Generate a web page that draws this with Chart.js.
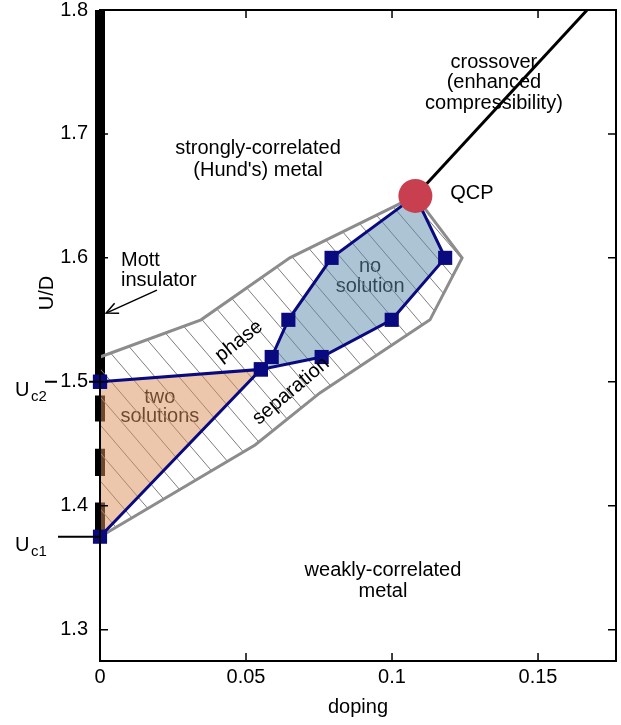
<!DOCTYPE html>
<html><head><meta charset="utf-8">
<script src="https://cdn.jsdelivr.net/npm/chart.js@4/dist/chart.umd.min.js"></script>
<style>html,body{margin:0;padding:0;background:#fff;}</style>
</head><body>
<canvas id="c" width="621" height="725"></canvas>
<script>
// ---------- data ----------
const xTicks = [0, 0.05, 0.1, 0.15];
const xTickLabels = ['0', '0.05', '0.1', '0.15'];
const yTicks = [1.3, 1.4, 1.5, 1.6, 1.7, 1.8];
const yTickLabels = ['1.3', '1.4', '1.5', '1.6', '1.7', '1.8'];
const xRange = [0, 0.1767];
const yRange = [1.2747, 1.8];

const Uc1 = 1.375;
const Uc2 = 1.5;

const mottBarU = [1.5, 1.8];                  // solid Mott insulator bar at doping 0
const mottDashStart = [1.468, 1.424, 1.380];  // dashed part below Uc2
const mottDashEnd   = [1.489, 1.446, 1.4025];

const twoSolDoping = [0, 0.0551, 0, 0];
const twoSolU      = [1.5, 1.51, 1.375, 1.5];

const noSolDoping = [0.108, 0.0793, 0.0645, 0.0588, 0.0551, 0.0759, 0.0999, 0.1182, 0.108];
const noSolU      = [1.65, 1.60, 1.55, 1.52, 1.51, 1.52, 1.55, 1.60, 1.65];

const phaseSepDoping = [0, 0.0346, 0.065, 0.1003, 0.108, 0.124, 0.113, 0.0753, 0.0531, 0, 0];
const phaseSepU      = [1.52, 1.55, 1.60, 1.641, 1.65, 1.60, 1.55, 1.491, 1.449, 1.375, 1.52];

const qcpDoping = [0.108];
const qcpU = [1.65];

const crossoverDoping = [0.108, 0.1668];
const crossoverU = [1.65, 1.8];

// ---------- helpers ----------
const FONT = "'Liberation Sans', Arial, Helvetica, sans-serif";
const NAVY = '#0a0a80';
const GRAY = '#8c8c8c';
const pts = (xs, ys) => xs.map((x, i) => ({x: x, y: ys[i]}));

function makeHatch(ctx) {
  const w = 24, h = 28;
  const t = document.createElement('canvas');
  t.width = w; t.height = h;
  const g = t.getContext('2d');
  g.strokeStyle = '#7d7d7d';
  g.lineWidth = 1;
  g.beginPath();
  for (const o of [-w, 0, w]) { g.moveTo(o, 0); g.lineTo(o + w, h); }
  g.stroke();
  return ctx.createPattern(t, 'repeat');
}

const canvas = document.getElementById('c');
const ctx0 = canvas.getContext('2d');
const hatch = makeHatch(ctx0);

const dashData = [];
mottDashStart.forEach((s, i) => {
  dashData.push({x: 0, y: s}, {x: 0, y: mottDashEnd[i]}, {x: 0, y: null});
});

const bothOnAxis = c => c.p0.parsed.x === 0 && c.p1.parsed.x === 0;

// ---------- annotation plugin ----------
function txt(ctx, s, x, y, align, size, color) {
  ctx.font = size + 'px ' + FONT;
  ctx.fillStyle = color || '#000';
  ctx.textAlign = align || 'center';
  ctx.textBaseline = 'middle';
  ctx.fillText(s, x, y);
}
function lines(ctx, arr, x, y, lh, align, color) {
  arr.forEach((s, i) => txt(ctx, s, x, y + i * lh, align, 20, color));
}

const annotations = {
  id: 'annotations',
  beforeDatasetsDraw(chart) {
    const {ctx, scales: {x, y}} = chart;
    ctx.save();
    lines(ctx, ['two', 'solutions'], x.getPixelForValue(0.0205), y.getPixelForValue(1.4877), 19.5, 'center', '#000');
    lines(ctx, ['no', 'solution'], x.getPixelForValue(0.0925), y.getPixelForValue(1.5934), 20, 'center', '#000');
    ctx.restore();
  },
  afterDatasetsDraw(chart) {
    const {ctx, scales: {x, y}} = chart;
    ctx.save();
    lines(ctx, ['strongly-correlated', "(Hund's) metal"], x.getPixelForValue(0.0541), y.getPixelForValue(1.6886), 22, 'center');
    lines(ctx, ['crossover', '(enhanced', 'compressibility)'], x.getPixelForValue(0.1349), y.getPixelForValue(1.758), 20.5, 'center');
    txt(ctx, 'QCP', x.getPixelForValue(0.1199), y.getPixelForValue(1.6523), 'left', 20);
    lines(ctx, ['Mott', 'insulator'], x.getPixelForValue(0.0072), y.getPixelForValue(1.5982), 20, 'left');
    lines(ctx, ['weakly-correlated', 'metal'], x.getPixelForValue(0.0969), y.getPixelForValue(1.348), 21, 'center');

    const rot = (s, dx, dy, deg) => {
      ctx.save();
      ctx.translate(x.getPixelForValue(dx), y.getPixelForValue(dy));
      ctx.rotate(deg * Math.PI / 180);
      txt(ctx, s, 0, 0, 'center', 20);
      ctx.restore();
    };
    rot('phase', 0.0476, 1.5328, -38);
    rot('separation', 0.0654, 1.4925, -40);

    const x1 = x.getPixelForValue(0.0195), y1 = y.getPixelForValue(1.574);
    const x2 = x.getPixelForValue(0.0021), y2 = y.getPixelForValue(1.5554);
    ctx.strokeStyle = '#000';
    ctx.lineWidth = 1.5;
    ctx.beginPath(); ctx.moveTo(x1, y1); ctx.lineTo(x2, y2); ctx.stroke();
    const ang = Math.atan2(y1 - y2, x1 - x2);
    const hl = 13, ha = 25 * Math.PI / 180;
    ctx.beginPath();
    ctx.moveTo(x2 + hl * Math.cos(ang + ha), y2 + hl * Math.sin(ang + ha));
    ctx.lineTo(x2, y2);
    ctx.lineTo(x2 + hl * Math.cos(ang - ha), y2 + hl * Math.sin(ang - ha));
    ctx.stroke();
    ctx.restore();
  },
  afterDraw(chart) {
    const {ctx, chartArea: a, scales: {x, y}} = chart;
    ctx.save();
    ctx.strokeStyle = '#000';
    ctx.lineWidth = 2;
    ctx.strokeRect(a.left, a.top, a.right - a.left, a.bottom - a.top);
    ctx.lineWidth = 1.5;
    ctx.beginPath();
    xTicks.forEach(v => {
      const p = x.getPixelForValue(v);
      ctx.moveTo(p, a.bottom); ctx.lineTo(p, a.bottom - 8);
      ctx.moveTo(p, a.top); ctx.lineTo(p, a.top + 8);
    });
    yTicks.forEach(v => {
      const p = y.getPixelForValue(v);
      ctx.moveTo(a.left, p); ctx.lineTo(a.left + 8, p);
      ctx.moveTo(a.right, p); ctx.lineTo(a.right - 8, p);
    });
    ctx.stroke();

    ctx.lineWidth = 2;
    const p2 = y.getPixelForValue(Uc2), p1 = y.getPixelForValue(Uc1);
    ctx.beginPath();
    ctx.moveTo(45, p2); ctx.lineTo(57, p2);
    ctx.moveTo(89, p2); ctx.lineTo(a.left, p2);
    ctx.moveTo(58, p1); ctx.lineTo(a.left, p1);
    ctx.stroke();
    const ulabel = (sub, py) => {
      ctx.fillStyle = '#000';
      ctx.textAlign = 'left';
      ctx.textBaseline = 'alphabetic';
      ctx.font = '20px ' + FONT;
      ctx.fillText('U', 15, py + 14);
      ctx.font = '15px ' + FONT;
      ctx.fillText(sub, 31, py + 19);
    };
    ulabel('c2', p2);
    ulabel('c1', p1);

    txt(ctx, 'doping', (a.left + a.right) / 2, 707, 'center', 20);
    ctx.save();
    ctx.translate(47, 293);
    ctx.rotate(-Math.PI / 2);
    txt(ctx, 'U/D', 0, 0, 'center', 20);
    ctx.restore();
    ctx.restore();
  }
};

// ---------- chart ----------
new Chart(canvas, {
  type: 'line',
  data: {
    datasets: [
      {
        data: pts([0, 0], mottBarU), borderColor: '#000', borderWidth: 10,
        borderCapStyle: 'butt', pointRadius: 0, fill: false, order: 90, clip: false
      },
      {
        data: dashData, borderColor: '#000', borderWidth: 10, borderCapStyle: 'butt',
        pointRadius: 0, fill: false, spanGaps: false, order: 80, clip: false
      },
      {
        data: pts(phaseSepDoping, phaseSepU), borderColor: GRAY, borderWidth: 3,
        borderJoinStyle: 'miter', backgroundColor: hatch, fill: 'shape', pointRadius: 0,
        segment: { borderColor: c => bothOnAxis(c) ? 'rgba(0,0,0,0)' : GRAY },
        order: 70, clip: false
      },
      {
        data: pts(twoSolDoping, twoSolU), borderColor: NAVY, borderWidth: 3,
        backgroundColor: 'rgba(218,143,88,0.5)', fill: 'shape',
        pointStyle: 'rect', pointRadius: 10, pointBorderWidth: 0, pointBackgroundColor: NAVY,
        segment: { borderColor: c => bothOnAxis(c) ? 'rgba(0,0,0,0)' : NAVY },
        order: 60, clip: false
      },
      {
        data: pts(noSolDoping, noSolU), borderColor: NAVY, borderWidth: 3,
        backgroundColor: 'rgba(90,138,170,0.5)', fill: 'shape',
        pointStyle: 'rect', pointRadius: noSolDoping.map((v, i) => (i === 0 || i === noSolDoping.length - 1) ? 0 : 10),
        pointBorderWidth: 0, pointBackgroundColor: NAVY,
        order: 50, clip: false
      },
      {
        data: pts(crossoverDoping, crossoverU), borderColor: '#000', borderWidth: 3,
        pointRadius: 0, fill: false, order: 40, clip: false
      },
      {
        data: pts(qcpDoping, qcpU), showLine: false, pointStyle: 'circle', pointRadius: 17,
        pointBackgroundColor: '#c8404f', pointBorderWidth: 0, order: 30, clip: false
      }
    ]
  },
  options: {
    responsive: false,
    animation: false,
    devicePixelRatio: 1,
    layout: { autoPadding: false, padding: { top: 10, right: 5, left: 0, bottom: 0 } },
    plugins: { legend: { display: false }, tooltip: { enabled: false } },
    elements: { line: { tension: 0 } },
    scales: {
      x: {
        type: 'linear', min: xRange[0], max: xRange[1],
        afterBuildTicks: s => { s.ticks = xTicks.map(v => ({value: v})); },
        afterFit: s => { s.height = 64; s.paddingLeft = 0; s.paddingRight = 0; s.paddingTop = 0; s.paddingBottom = 0; },
        ticks: {
          callback: v => xTickLabels[xTicks.indexOf(v)],
          font: { size: 20, family: FONT }, color: '#000', padding: 4,
          maxRotation: 0, autoSkip: false
        },
        grid: { display: false, drawTicks: false },
        border: { display: false }
      },
      y: {
        type: 'linear', min: yRange[0], max: yRange[1],
        afterBuildTicks: s => { s.ticks = yTicks.map(v => ({value: v})); },
        afterFit: s => { s.width = 100; s.paddingLeft = 0; s.paddingRight = 0; s.paddingTop = 0; s.paddingBottom = 0; },
        ticks: {
          callback: v => yTickLabels[yTicks.indexOf(v)],
          font: { size: 20, family: FONT }, color: '#000', padding: 12, autoSkip: false
        },
        grid: { display: false, drawTicks: false },
        border: { display: false }
      }
    }
  },
  plugins: [annotations]
});
</script>
</body></html>
